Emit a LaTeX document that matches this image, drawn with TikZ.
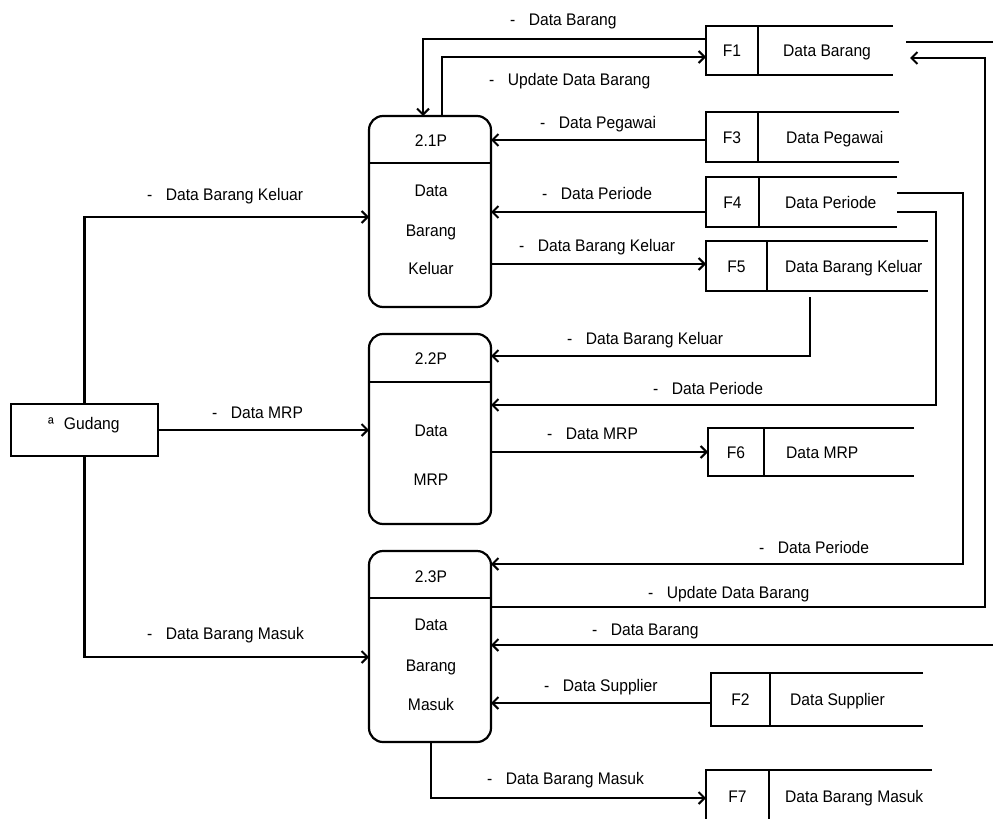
\documentclass[tikz,border=0pt]{standalone}
\usepackage{fontspec}
\setmainfont{Liberation Sans}[FakeStretch=0.93]
\usetikzlibrary{arrows.meta}
\tikzset{
  ln/.style={line width=2.2pt, black},
  flow/.style={ln, -{Straight Barb[length=6pt,width=12pt,line width=2pt]}},
  proc/.style={draw, line width=2.2pt, rounded corners=14pt, minimum width=122pt,
               anchor=north west, inner sep=0pt, outer sep=0pt},
  tx/.style={font=\fontsize{16.8}{18}\selectfont, inner sep=0pt, anchor=base, yshift=-6pt},
  lbl/.style={tx, anchor=base west}
}
\newcommand\DStore[9]{%
  \node[draw=none, inner sep=0pt, outer sep=0pt, minimum width={#4-#2}, minimum height={#5-#3},
        anchor=north west] (#1) at (#2,#3) {};
  \draw[ln] (#1.north east) -- (#1.north west) -- (#1.south west) -- (#1.south east);
  \draw[ln] (#6,#3) -- (#6,#5);
  \node[tx] (#1c) at ({(#2+#6)/2},{(#3+#5)/2}) {#7};
  \node[lbl] (#1t) at (#8,{(#3+#5)/2}) {#9};
}
\begin{document}
\begin{tikzpicture}[x=1pt,y=-1pt]
\useasboundingbox (0,0) rectangle (993,819);
\clip (0,0) rectangle (993,819);
\fill[white] (0,0) rectangle (993,819);

% processes
\node[proc, minimum height=191pt] (p1) at (369,116) {};
\node[proc, minimum height=190pt] (p2) at (369,334) {};
\node[proc, minimum height=191pt] (p3) at (369,551) {};
\draw[ln] (p1.west |- 0,163) -- (p1.east |- 0,163);
\draw[ln] (p2.west |- 0,382) -- (p2.east |- 0,382);
\draw[ln] (p3.west |- 0,598) -- (p3.east |- 0,598);
\node[tx] (p1a) at (431,140) {2.1P};
\node[tx] (p1b) at (431,190) {Data};
\node[tx] (p1c) at (431,230) {Barang};
\node[tx] (p1d) at (431,268) {Keluar};
\node[tx] (p2a) at (431,358) {2.2P};
\node[tx] (p2b) at (431,430) {Data};
\node[tx] (p2c) at (431,479) {MRP};
\node[tx] (p3a) at (431,576) {2.3P};
\node[tx] (p3b) at (431,624) {Data};
\node[tx] (p3c) at (431,665) {Barang};
\node[tx] (p3d) at (431,704) {Masuk};

% external entity
\node[draw, line width=2.2pt, minimum width=147pt, minimum height=52pt, inner sep=0pt,
      outer sep=0pt, anchor=north west] (G) at (11,404) {};
\node[lbl] (Gt) at (48,423) {ª\hspace{10pt}Gudang};

% data stores
\DStore{F1}{706}{26}{893}{75}{758}{F1}{783}{Data Barang}
\DStore{F3}{706}{112}{899}{162}{758}{F3}{786}{Data Pegawai}
\DStore{F4}{706}{177}{897}{227}{759}{F4}{785}{Data Periode}
\DStore{F5}{706}{241}{928}{291}{767}{F5}{785}{Data Barang Keluar}
\DStore{F6}{708}{428}{914}{476}{764}{F6}{786}{Data MRP}
\DStore{F2}{711}{673}{923}{726}{770}{F2}{790}{Data Supplier}
\DStore{F7}{706}{770}{932}{822}{769}{F7}{785}{Data Barang Masuk}

% free ends
\coordinate (F1in) at (910,58);
\coordinate (F1out) at (906,42);
\coordinate (F5out) at (810,297);

% connectors
\draw[flow] (F1.west |- 0,39) -| (423,0 |- p1.north);
\draw[flow] (p1.north -| 442,0) |- (F1.west |- 0,57);
\draw[flow] (F3.west |- 0,140) -- (p1.east |- 0,140);
\draw[flow] (F4.west |- 0,212) -- (p1.east |- 0,212);
\draw[flow] (p1.east |- 0,264) -- (F5.west |- 0,264);
\draw[flow] (G.north) |- (p1.west |- 0,217);
\draw[flow] (G.east) -- (p2.west |- G.east);
\draw[flow] (G.south) |- (p3.west |- 0,657);
\draw[flow] (F5out) |- (p2.east |- 0,356);
\draw[flow] (F4.east |- 0,212) -| (936,405) -- (p2.east |- 0,405);
\draw[flow] (F4.east |- 0,193) -| (963,564) -- (p3.east |- 0,564);
\draw[flow] (p2.east |- 0,452) -- (F6.west |- 0,452);
\draw[flow] (p3.east |- 0,607) -| (985,58) -- (F1in);
\draw[flow] (F1out) -- (1010,42) -- (1010,645) -- (p3.east |- 0,645);
\draw[flow] (F2.west |- 0,703) -- (p3.east |- 0,703);
\draw[flow] (p3.south -| 431,0) |- (F7.west |- 0,798);

% labels
\node[lbl] (l1) at (510,19) {-\hspace{13.5pt}Data Barang};
\node[lbl] (l2) at (489,79) {-\hspace{13.5pt}Update Data Barang};
\node[lbl] (l3) at (540,122) {-\hspace{13.5pt}Data Pegawai};
\node[lbl] (l4) at (542,193) {-\hspace{13.5pt}Data Periode};
\node[lbl] (l5) at (519,245) {-\hspace{13.5pt}Data Barang Keluar};
\node[lbl] (l6) at (147,194) {-\hspace{13.5pt}Data Barang Keluar};
\node[lbl] (l7) at (212,412) {-\hspace{13.5pt}Data MRP};
\node[lbl] (l8) at (147,633) {-\hspace{13.5pt}Data Barang Masuk};
\node[lbl] (l9) at (567,338) {-\hspace{13.5pt}Data Barang Keluar};
\node[lbl] (l10) at (653,388) {-\hspace{13.5pt}Data Periode};
\node[lbl] (l11) at (547,433) {-\hspace{13.5pt}Data MRP};
\node[lbl] (l12) at (759,547) {-\hspace{13.5pt}Data Periode};
\node[lbl] (l13) at (648,592) {-\hspace{13.5pt}Update Data Barang};
\node[lbl] (l14) at (592,629) {-\hspace{13.5pt}Data Barang};
\node[lbl] (l15) at (544,685) {-\hspace{13.5pt}Data Supplier};
\node[lbl] (l16) at (487,778) {-\hspace{13.5pt}Data Barang Masuk};
\end{tikzpicture}
\end{document}
